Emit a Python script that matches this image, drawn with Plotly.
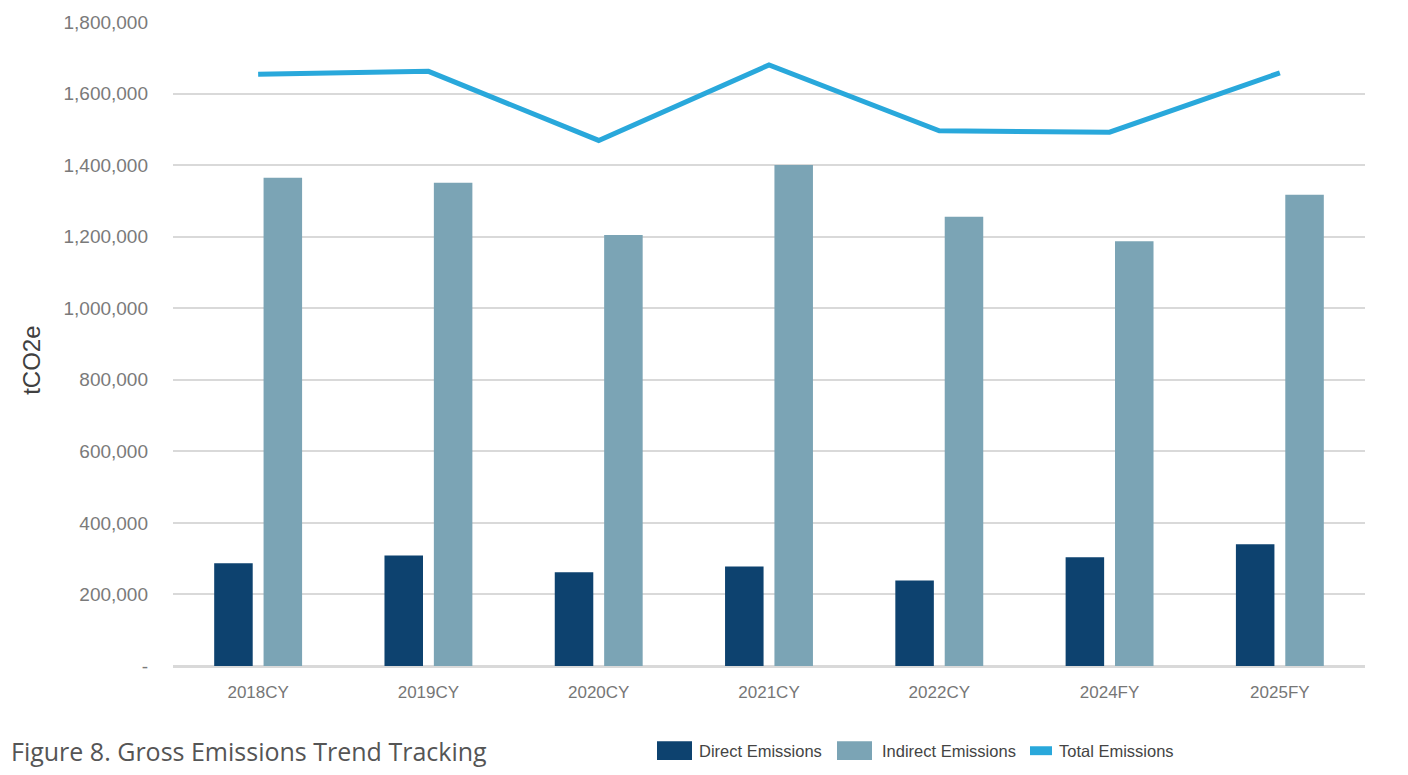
import plotly.graph_objects as go

# Reporting periods
periods = ["2018CY", "2019CY", "2020CY", "2021CY", "2022CY", "2024FY", "2025FY"]

# Emissions in tCO2e
direct_emissions = [287000, 309000, 262000, 278000, 239000, 304000, 340000]
indirect_emissions = [1365000, 1351000, 1205000, 1400000, 1256000, 1187000, 1317000]
total_emissions = [1654000, 1662000, 1469000, 1680000, 1496000, 1492000, 1658000]

# Y-axis ticks
y_tick_values = [0, 200000, 400000, 600000, 800000, 1000000, 1200000, 1400000, 1600000, 1800000]
y_tick_labels = ["-", "200,000", "400,000", "600,000", "800,000", "1,000,000",
                 "1,200,000", "1,400,000", "1,600,000", "1,800,000"]

series_names = ["Direct Emissions", "Indirect Emissions", "Total Emissions"]
colors = ["#0d426f", "#7ba4b5", "#29a8db"]

W, H = 1408, 775
L, R, T, B = 173, 43, 16, 109
plot_w = W - L - R
plot_h = H - T - B

fig = go.Figure()
fig.add_trace(go.Bar(x=periods, y=direct_emissions, name=series_names[0],
                     marker=dict(color=colors[0], line=dict(width=0))))
fig.add_trace(go.Bar(x=periods, y=indirect_emissions, name=series_names[1],
                     marker=dict(color=colors[1], line=dict(width=0))))
fig.add_trace(go.Scatter(x=periods, y=total_emissions, name=series_names[2],
                         mode="lines", line=dict(color=colors[2], width=5)))

grid = "#d9d9d9"
fig.update_layout(
    width=W, height=H,
    margin=dict(l=L, r=R, t=T, b=B, pad=0),
    paper_bgcolor="white", plot_bgcolor="white",
    barmode="group", bargap=0.42, bargroupgap=0.22,
    showlegend=False,
    font=dict(family="Liberation Sans, Arial, sans-serif"),
    xaxis=dict(
        showgrid=False, showline=True, linecolor=grid, linewidth=1.5,
        tickfont=dict(size=17, color="#767676"), ticks="",
        ticklabelstandoff=10,
    ),
    yaxis=dict(
        range=[0, 1800000], tickvals=y_tick_values, ticktext=y_tick_labels,
        showgrid=True, gridcolor=grid, gridwidth=1.5,
        zeroline=True, zerolinecolor=grid, zerolinewidth=1.5,
        showline=False, ticks="",
        tickfont=dict(size=19, color="#7a7a7a"),
        ticklabelstandoff=24,
    ),
)

def px_x(px):
    return (px - L) / plot_w

def px_y(py):
    return (H - B - py) / plot_h

annotations = [
    dict(text="tCO2e", textangle=-90, x=px_x(32), y=px_y(358), xref="paper", yref="paper",
         xanchor="center", yanchor="middle", showarrow=False,
         font=dict(size=24, color="#404040", family="Liberation Sans, Arial, sans-serif")),
    dict(text="Figure 8. Gross Emissions Trend Tracking", x=px_x(9), y=px_y(752),
         xref="paper", yref="paper", xanchor="left", yanchor="middle", showarrow=False,
         font=dict(size=25, color="#555555", family="Open Sans, sans-serif")),
]

# Legend drawn along the bottom edge
shapes = []
legend_items = [
    (657, 692, 742, 761, 697),
    (837, 872, 742, 761, 880),
    (1030, 1052, 747, 756, 1057),
]
for (x0, x1, y0, y1, tx), name, col in zip(legend_items, series_names, colors):
    shapes.append(dict(type="rect", xref="paper", yref="paper",
                       x0=px_x(x0), x1=px_x(x1), y0=px_y(y1), y1=px_y(y0),
                       fillcolor=col, line=dict(width=0)))
    annotations.append(dict(text=name, x=px_x(tx), y=px_y(752), xref="paper", yref="paper",
                            xanchor="left", yanchor="middle", showarrow=False,
                            font=dict(size=16.5, color="#444444",
                                      family="Liberation Sans, Arial, sans-serif")))

fig.update_layout(annotations=annotations, shapes=shapes)
fig.write_html("out.html")
